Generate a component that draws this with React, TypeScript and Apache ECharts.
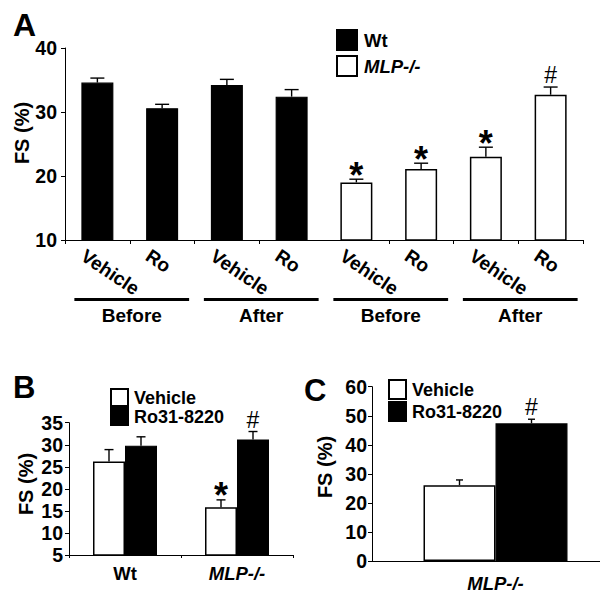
import React, { useEffect, useRef } from "react";
import * as echarts from "echarts";

const FONT = "'Liberation Sans', Arial, Helvetica, sans-serif";

// ---------- Panel A ----------
const aCategories = ["Vehicle", "Ro", "Vehicle", "Ro", "Vehicle", "Ro", "Vehicle", "Ro"];
const aGroups = ["Before", "After", "Before", "After"];
const aWt = [34.6, 30.6, 34.2, 32.4, null, null, null, null];
const aMlp = [null, null, null, null, 19.0, 21.1, 23.0, 32.7];
const aErr = [0.7, 0.6, 0.9, 1.1, 0.5, 0.9, 1.5, 1.2];
const aMarks = ["", "", "", "", "*", "*", "*", "#"];
const aAxis = { min: 10, max: 40, interval: 10 };

// ---------- Panel B ----------
const bCategories = ["Wt", "MLP-/-"];
const bVehicle = [26.2, 15.8];
const bVehicleErr = [2.7, 1.7];
const bVehicleMarks = ["", "*"];
const bRo = [29.8, 31.2];
const bRoErr = [2.0, 1.8];
const bRoMarks = ["", "#"];
const bAxis = { min: 5, max: 35, interval: 5 };

// ---------- Panel C ----------
const cCategories = ["MLP-/-"];
const cVehicle = [26.1];
const cVehicleErr = [1.8];
const cVehicleMarks = [""];
const cRo = [47.4];
const cRoErr = [1.4];
const cRoMarks = ["#"];
const cAxis = { min: 0, max: 60, interval: 10 };

const yTitle = "FS (%)";

const txt = (size: number, extra: any = {}) => ({
  color: "#000",
  fontFamily: FONT,
  fontWeight: "bold",
  fontSize: size,
  ...extra,
});

function errSeries(
  name: string,
  axisIndex: number,
  values: (number | null)[],
  errs: number[],
  marks: string[],
  offset: number,
  capW: number
) {
  const data = values
    .map((v, i) => (v == null ? null : [i, v, errs[i]]))
    .filter((d) => d != null);
  return {
    type: "custom",
    name,
    xAxisIndex: axisIndex,
    yAxisIndex: axisIndex,
    z: 5,
    silent: true,
    encode: { x: 0, y: 1 },
    data,
    renderItem: (params: any, api: any) => {
      const idx = api.value(0);
      const v = api.value(1);
      const e = api.value(2);
      const p0 = api.coord([idx, v]);
      const p1 = api.coord([idx, v + e]);
      const x = p0[0] + offset;
      const ls = { stroke: "#000", lineWidth: 1.4 };
      const children: any[] = [
        { type: "line", shape: { x1: x, y1: p0[1], x2: x, y2: p1[1] }, style: ls },
        { type: "line", shape: { x1: x - capW / 2, y1: p1[1], x2: x + capW / 2, y2: p1[1] }, style: ls },
      ];
      const m = marks[idx];
      if (m) {
        const isStar = m === "*";
        children.push({
          type: "text",
          style: {
            text: m,
            x,
            y: p1[1] - (isStar ? 4 : 12),
            align: "center",
            verticalAlign: "middle",
            fill: "#000",
            fontFamily: FONT,
            fontWeight: isStar ? "bold" : "normal",
            fontSize: isStar ? 36 : 23,
          },
        });
      }
      return { type: "group", children };
    },
  };
}

const yAxisBase = (gridIndex: number, ax: any, margin: number) => ({
  gridIndex,
  type: "value",
  min: ax.min,
  max: ax.max,
  interval: ax.interval,
  axisLine: { show: true, lineStyle: { color: "#000", width: 1 } },
  axisTick: { show: true, length: 4, lineStyle: { color: "#000", width: 1 } },
  splitLine: { show: false },
  axisLabel: { ...txt(19.5), margin },
});

const italicRich = { i: txt(18.5, { fontStyle: "italic" }) };

export default function App() {
  const ref = useRef<HTMLDivElement>(null);
  useEffect(() => {
    if (!ref.current) return;
    const chart = echarts.init(ref.current, undefined, { renderer: "svg" });
    const option: any = {
      animation: false,
      backgroundColor: "#fff",
      grid: [
        { left: 65, top: 48, width: 518, height: 192, outerBoundsMode: "none", containLabel: false },
        { left: 69, top: 422.7, width: 224, height: 132.3, outerBoundsMode: "none", containLabel: false },
        { left: 372, top: 386.7, width: 247, height: 174.3, outerBoundsMode: "none", containLabel: false },
      ],
      xAxis: [
        {
          gridIndex: 0,
          type: "category",
          data: aCategories.map((c, i) => c + "_" + i),
          axisLine: { lineStyle: { color: "#000", width: 1 } },
          axisTick: {
            show: true,
            length: 4,
            lineStyle: { color: "#000" },
            interval: (i: number) => i !== 4,
          },
          axisLabel: { show: false },
        },
        {
          gridIndex: 1,
          type: "category",
          data: bCategories,
          axisLine: { lineStyle: { color: "#000", width: 1 } },
          axisTick: { show: true, length: 3, lineStyle: { color: "#000" } },
          axisLabel: {
            ...txt(18.5),
            margin: 9,
            formatter: (v: string) => (v === "MLP-/-" ? "{i|MLP-/-}" : v),
            rich: italicRich,
          },
        },
        {
          gridIndex: 2,
          type: "category",
          data: cCategories,
          axisLine: { lineStyle: { color: "#000", width: 1 } },
          axisTick: { show: false },
          axisLabel: {
            ...txt(18.5),
            margin: 13,
            formatter: (v: string) => (v === "MLP-/-" ? "{i|MLP-/-}" : v),
            rich: italicRich,
          },
        },
      ],
      yAxis: [yAxisBase(0, aAxis, 8), yAxisBase(1, bAxis, 6), yAxisBase(2, cAxis, 5)],
      legend: [
        {
          data: ["Wt", "MLP-/-"],
          left: 331,
          top: 24,
          orient: "vertical",
          icon: "rect",
          itemWidth: 20,
          itemHeight: 20,
          itemGap: 4,
          selectedMode: false,
          textStyle: { ...txt(18.5), padding: [0, 0, 0, 2], rich: italicRich },
          formatter: (n: string) => (n === "MLP-/-" ? "{i|MLP-/-}" : n),
        },
        {
          data: ["Vehicle", "Ro31-8220"],
          left: 105,
          top: 383,
          orient: "vertical",
          icon: "rect",
          itemWidth: 17,
          itemHeight: 17,
          itemGap: 0,
          selectedMode: false,
          textStyle: { ...txt(18), padding: [0, 0, 0, 1] },
        },
        {
          data: ["Vehicle", "Ro31-8220"],
          left: 383,
          top: 374,
          orient: "vertical",
          icon: "rect",
          itemWidth: 17,
          itemHeight: 19,
          itemGap: 1,
          selectedMode: false,
          textStyle: { ...txt(18), padding: [0, 0, 0, 1] },
        },
      ],
      series: [
        {
          type: "bar",
          name: "Wt",
          xAxisIndex: 0,
          yAxisIndex: 0,
          data: aWt.map((v) => (v == null ? "-" : v)),
          barWidth: 32,
          barGap: "-100%",
          itemStyle: { color: "#000", borderColor: "#000", borderWidth: 1.2 },
        },
        {
          type: "bar",
          name: "MLP-/-",
          xAxisIndex: 0,
          yAxisIndex: 0,
          data: aMlp.map((v) => (v == null ? "-" : v)),
          barWidth: 32,
          barGap: "-100%",
          itemStyle: { color: "#fff", borderColor: "#000", borderWidth: 1.5 },
        },
        errSeries("errA", 0, aWt.map((v, i) => (v == null ? aMlp[i] : v)), aErr, aMarks, 0, 14),
        {
          type: "bar",
          name: "Vehicle",
          xAxisIndex: 1,
          yAxisIndex: 1,
          data: bVehicle,
          barWidth: 32,
          barGap: "0%",
          itemStyle: { color: "#fff", borderColor: "#000", borderWidth: 1.5 },
        },
        {
          type: "bar",
          name: "Ro31-8220",
          xAxisIndex: 1,
          yAxisIndex: 1,
          data: bRo,
          barWidth: 32,
          barGap: "0%",
          itemStyle: { color: "#000", borderColor: "#000", borderWidth: 1.2 },
        },
        errSeries("errBV", 1, bVehicle, bVehicleErr, bVehicleMarks, -16, 9),
        errSeries("errBR", 1, bRo, bRoErr, bRoMarks, 16, 9),
        {
          type: "bar",
          name: "Vehicle",
          xAxisIndex: 2,
          yAxisIndex: 2,
          data: cVehicle,
          barWidth: 72,
          barGap: "0%",
          itemStyle: { color: "#fff", borderColor: "#000", borderWidth: 1.5 },
        },
        {
          type: "bar",
          name: "Ro31-8220",
          xAxisIndex: 2,
          yAxisIndex: 2,
          data: cRo,
          barWidth: 72,
          barGap: "0%",
          itemStyle: { color: "#000", borderColor: "#000", borderWidth: 1.2 },
        },
        errSeries("errCV", 2, cVehicle, cVehicleErr, cVehicleMarks, -36, 7),
        errSeries("errCR", 2, cRo, cRoErr, cRoMarks, 36, 7),
      ],
    };
    chart.setOption(option);

    const graphics: any[] = [
      { type: "text", left: 13, top: 9, style: { text: "A", ...txt(32), fill: "#000" } },
      { type: "text", left: 13, top: 372, style: { text: "B", ...txt(31), fill: "#000" } },
      { type: "text", left: 304, top: 375, style: { text: "C", ...txt(31), fill: "#000" } },
    ];
    // Rotated y-axis titles
    const yTitles = [
      { x: 22, y: 133 },
      { x: 26, y: 484 },
      { x: 325, y: 467 },
    ];
    yTitles.forEach((p) =>
      graphics.push({
        type: "text",
        x: p.x,
        y: p.y,
        rotation: Math.PI / 2,
        style: { text: yTitle, ...txt(20), fill: "#000", align: "center", verticalAlign: "middle" },
      })
    );
    // Rotated category labels, group bars and group labels for panel A
    const centers = aCategories.map(
      (_, i) => chart.convertToPixel({ xAxisIndex: 0, yAxisIndex: 0 }, [i, aAxis.min]) as number[]
    );
    aCategories.forEach((c, i) => {
      const [x, y] = centers[i];
      graphics.push({
        type: "text",
        x: x - 9,
        y: y + 6,
        rotation: (-34 * Math.PI) / 180,
        style: { text: c, ...txt(19), fill: "#000", align: "left", verticalAlign: "top" },
      });
    });
    aGroups.forEach((g, k) => {
      const xa = centers[2 * k][0] - 23;
      const xb = centers[2 * k + 1][0] + 27;
      const y = centers[0][1];
      graphics.push({
        type: "rect",
        shape: { x: xa, y: y + 58, width: xb - xa, height: 3 },
        style: { fill: "#000" },
      });
      graphics.push({
        type: "text",
        x: (xa + xb) / 2,
        y: y + 75,
        style: { text: g, ...txt(19), fill: "#000", align: "center", verticalAlign: "middle" },
      });
    });
    chart.setOption({ graphic: graphics });

    return () => chart.dispose();
  }, []);
  return (
    <div
      ref={ref}
      style={{ position: "absolute", left: 0, top: 0, width: 600, height: 604, background: "#fff" }}
    />
  );
}
